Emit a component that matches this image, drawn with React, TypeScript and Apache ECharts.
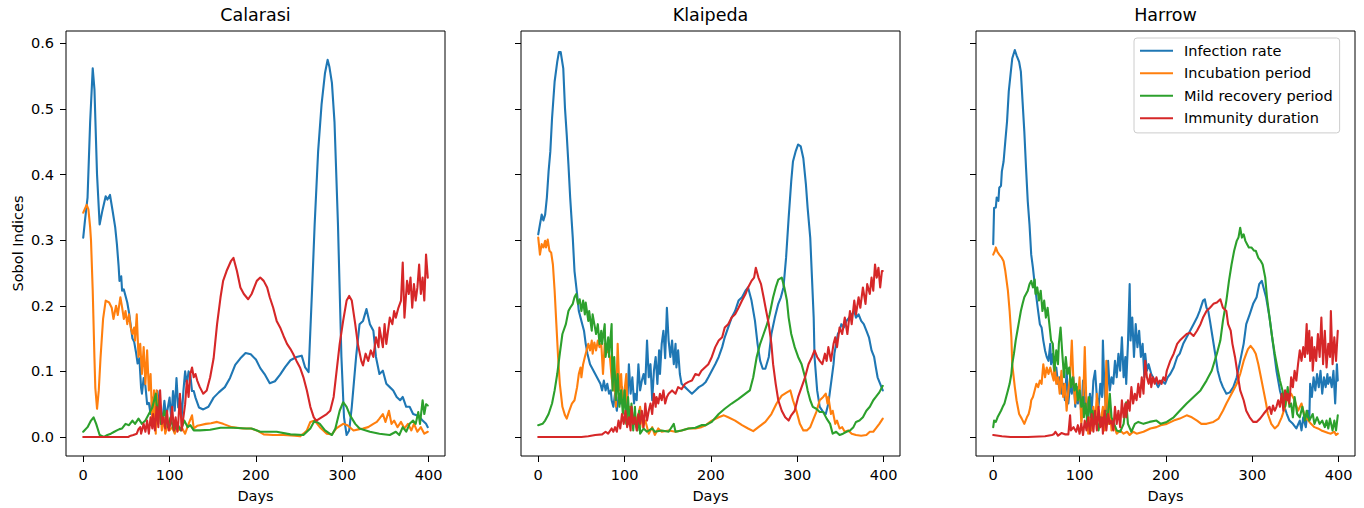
import React, { useEffect, useRef } from "react";
import * as echarts from "echarts";

type P = [number, number][];

const seriesNames = ["Infection rate", "Incubation period", "Mild recovery period", "Immunity duration"];
const seriesColors = ["#1f77b4", "#ff7f0e", "#2ca02c", "#d62728"];
const regionNames = ["Calarasi", "Klaipeda", "Harrow"];
const xTickValues = [0, 100, 200, 300, 400];
const yTickValues = [0, 0.1, 0.2, 0.3, 0.4, 0.5, 0.6];

// ---------------- Calarasi ----------------
const calarasiInfection: P = [[0,0.304],[2,0.33],[5,0.365],[8,0.48],[11,0.562],[13,0.53],[16,0.40],[19,0.324],[22,0.344],[26,0.367],[28,0.362],[31,0.369],[34,0.345],[37,0.32],[39,0.294],[41,0.26],[42,0.238],[44,0.245],[45,0.223],[47,0.225],[49,0.215],[51,0.205],[53,0.19],[55,0.17],[57,0.15],[59,0.145],[61,0.13],[63,0.112],[65,0.12],[67,0.075],[68,0.066],[70,0.09],[72,0.078],[74,0.05],[76,0.052],[78,0.035],[80,0.06],[82,0.04],[84,0.035],[86,0.07],[88,0.045],[90,0.035],[92,0.03],[94,0.055],[96,0.03],[98,0.045],[100,0.06],[102,0.025],[104,0.07],[106,0.04],[108,0.09],[110,0.045],[112,0.06],[114,0.03],[116,0.07],[118,0.1],[120,0.08],[122,0.1],[124,0.095],[126,0.07],[128,0.07],[130,0.06],[134,0.045],[139,0.042],[145,0.046],[151,0.06],[157,0.068],[164,0.076],[170,0.09],[176,0.11],[182,0.12],[188,0.128],[194,0.126],[200,0.118],[205,0.105],[210,0.096],[216,0.082],[222,0.085],[228,0.095],[234,0.107],[240,0.117],[247,0.122],[253,0.124],[257,0.106],[261,0.099],[265,0.224],[268,0.324],[272,0.435],[276,0.507],[280,0.555],[283,0.575],[285,0.565],[288,0.54],[291,0.48],[295,0.324],[299,0.122],[302,0.03],[305,0.003],[308,0.01],[311,0.046],[316,0.122],[320,0.172],[324,0.177],[328,0.195],[332,0.172],[336,0.162],[339,0.122],[343,0.096],[347,0.101],[351,0.081],[355,0.076],[359,0.071],[363,0.061],[367,0.056],[370,0.061],[374,0.046],[378,0.046],[382,0.035],[386,0.033],[390,0.03],[393,0.025],[397,0.02],[399,0.015]];
const calarasiIncubation: P = [[0,0.342],[2,0.348],[4,0.354],[6,0.347],[8,0.32],[9,0.30],[11,0.223],[13,0.12],[14,0.075],[16,0.043],[18,0.071],[20,0.12],[23,0.18],[26,0.208],[30,0.205],[33,0.197],[35,0.18],[38,0.2],[40,0.186],[43,0.213],[45,0.198],[47,0.18],[49,0.192],[51,0.172],[53,0.187],[55,0.167],[57,0.157],[59,0.167],[60,0.147],[62,0.187],[64,0.122],[66,0.142],[68,0.096],[70,0.137],[72,0.081],[74,0.132],[76,0.071],[78,0.096],[80,0.02],[82,0.071],[84,0.005],[85,0.071],[87,0.02],[89,0.051],[91,0.01],[93,0.03],[95,0.005],[98,0.02],[100,0.01],[103,0.015],[106,0.005],[108,0.02],[110,0.01],[114,0.015],[118,0.005],[122,0.02],[126,0.033],[128,0.013],[132,0.017],[135,0.018],[142,0.02],[148,0.021],[155,0.023],[162,0.02],[172,0.015],[185,0.013],[194,0.013],[201,0.01],[209,0.004],[220,0.003],[232,0.003],[245,0.002],[251,0.001],[255,0.005],[259,0.01],[263,0.023],[268,0.025],[274,0.015],[282,0.005],[288,0.004],[293,0.013],[301,0.02],[306,0.018],[313,0.01],[320,0.012],[324,0.013],[330,0.015],[336,0.02],[340,0.023],[343,0.028],[347,0.035],[350,0.023],[354,0.04],[357,0.02],[360,0.025],[364,0.015],[368,0.023],[372,0.013],[376,0.02],[380,0.01],[383,0.02],[387,0.008],[391,0.015],[395,0.005],[399,0.008]];
const calarasiRecovery: P = [[0,0.008],[5,0.015],[9,0.025],[12,0.03],[15,0.02],[19,0.003],[24,0.0],[28,0.003],[32,0.005],[36,0.008],[39,0.01],[42,0.012],[45,0.013],[49,0.02],[53,0.018],[57,0.025],[60,0.02],[64,0.028],[68,0.02],[72,0.025],[76,0.035],[80,0.045],[84,0.066],[86,0.03],[88,0.056],[90,0.02],[94,0.04],[98,0.015],[101,0.03],[105,0.01],[109,0.02],[113,0.01],[117,0.025],[121,0.015],[124,0.018],[128,0.01],[135,0.01],[147,0.011],[159,0.014],[174,0.014],[189,0.013],[195,0.013],[205,0.008],[215,0.008],[224,0.008],[240,0.004],[255,0.003],[263,0.013],[268,0.025],[274,0.02],[280,0.01],[288,0.003],[292,0.013],[297,0.04],[301,0.053],[305,0.046],[309,0.033],[315,0.02],[320,0.013],[332,0.008],[343,0.005],[355,0.003],[362,0.008],[366,0.003],[370,0.015],[374,0.008],[378,0.02],[382,0.025],[385,0.02],[388,0.038],[390,0.02],[393,0.056],[395,0.035],[397,0.05],[399,0.048]];
const calarasiImmunity: P = [[0,0],[20,0],[40,0],[52,0],[55,0.002],[58,0.003],[62,0.005],[64,0.012],[66,0.015],[67,0.005],[70,0.02],[72,0.008],[74,0.025],[76,0.005],[78,0.03],[80,0.013],[81,0.035],[83,0.01],[85,0.046],[87,0.015],[89,0.071],[91,0.02],[93,0.03],[95,0.013],[97,0.04],[99,0.01],[101,0.02],[103,0.046],[105,0.01],[107,0.03],[109,0.008],[110,0.02],[112,0.066],[114,0.01],[116,0.03],[118,0.05],[120,0.086],[122,0.061],[124,0.096],[126,0.106],[128,0.091],[130,0.096],[132,0.086],[135,0.076],[139,0.066],[143,0.071],[147,0.091],[151,0.12],[155,0.172],[159,0.213],[162,0.238],[166,0.253],[171,0.268],[174,0.273],[178,0.253],[182,0.228],[186,0.218],[191,0.21],[195,0.218],[201,0.238],[205,0.243],[209,0.238],[213,0.228],[216,0.213],[220,0.197],[224,0.177],[228,0.167],[232,0.154],[236,0.142],[240,0.134],[243,0.127],[247,0.116],[251,0.106],[255,0.091],[259,0.071],[263,0.046],[267,0.03],[270,0.025],[276,0.03],[282,0.035],[286,0.04],[290,0.061],[293,0.096],[297,0.142],[301,0.177],[305,0.208],[308,0.215],[311,0.208],[315,0.172],[318,0.142],[322,0.116],[324,0.109],[327,0.127],[330,0.116],[333,0.132],[336,0.122],[339,0.152],[342,0.137],[343,0.167],[347,0.137],[349,0.172],[351,0.142],[355,0.182],[358,0.172],[360,0.192],[362,0.182],[365,0.197],[368,0.208],[370,0.266],[372,0.182],[375,0.238],[377,0.218],[379,0.243],[381,0.197],[383,0.233],[385,0.208],[387,0.228],[389,0.263],[391,0.218],[393,0.243],[395,0.208],[397,0.278],[399,0.243]];

// ---------------- Klaipeda ----------------
const klaipedaInfection: P = [[0,0.309],[2,0.324],[4,0.339],[6,0.33],[8,0.339],[10,0.365],[12,0.405],[14,0.435],[16,0.486],[19,0.542],[22,0.572],[24,0.587],[26,0.587],[29,0.562],[31,0.501],[33,0.461],[35,0.415],[37,0.365],[40,0.304],[42,0.253],[45,0.218],[47,0.192],[49,0.182],[51,0.172],[53,0.162],[55,0.142],[57,0.127],[60,0.111],[64,0.101],[68,0.091],[72,0.081],[74,0.071],[76,0.086],[78,0.071],[80,0.081],[82,0.066],[84,0.071],[85,0.056],[87,0.046],[89,0.066],[91,0.04],[93,0.061],[95,0.051],[97,0.076],[99,0.051],[101,0.076],[103,0.046],[105,0.111],[107,0.066],[109,0.091],[111,0.051],[112,0.066],[114,0.056],[116,0.111],[118,0.071],[120,0.086],[122,0.096],[124,0.081],[126,0.147],[128,0.091],[130,0.111],[132,0.056],[134,0.101],[136,0.122],[138,0.081],[140,0.132],[141,0.096],[143,0.142],[145,0.162],[147,0.12],[149,0.197],[151,0.147],[153,0.122],[155,0.147],[157,0.111],[159,0.142],[160,0.106],[162,0.132],[164,0.096],[166,0.081],[170,0.076],[174,0.071],[178,0.066],[182,0.071],[186,0.076],[190,0.079],[194,0.084],[197,0.091],[201,0.101],[205,0.111],[209,0.122],[213,0.137],[216,0.152],[220,0.167],[224,0.182],[228,0.192],[232,0.208],[236,0.213],[240,0.223],[243,0.228],[247,0.208],[251,0.177],[254,0.142],[257,0.116],[260,0.104],[263,0.104],[267,0.122],[270,0.157],[274,0.182],[278,0.203],[281,0.213],[284,0.228],[287,0.273],[290,0.334],[293,0.39],[295,0.42],[298,0.435],[301,0.446],[304,0.443],[307,0.425],[310,0.385],[312,0.349],[315,0.304],[317,0.243],[319,0.182],[320,0.122],[323,0.071],[326,0.046],[330,0.038],[333,0.035],[336,0.051],[338,0.071],[340,0.091],[342,0.111],[343,0.127],[345,0.142],[347,0.157],[349,0.162],[351,0.172],[354,0.167],[357,0.177],[360,0.182],[363,0.187],[366,0.192],[368,0.182],[371,0.187],[374,0.177],[377,0.172],[380,0.162],[383,0.152],[386,0.132],[389,0.122],[391,0.106],[393,0.091],[396,0.081],[399,0.071]];
const klaipedaIncubation: P = [[0,0.304],[2,0.278],[4,0.294],[6,0.289],[8,0.299],[9,0.289],[11,0.301],[13,0.284],[15,0.281],[17,0.263],[19,0.223],[21,0.172],[23,0.122],[25,0.081],[28,0.046],[31,0.033],[33,0.028],[36,0.04],[39,0.051],[42,0.056],[45,0.076],[47,0.096],[49,0.106],[50,0.091],[52,0.111],[54,0.122],[56,0.132],[58,0.142],[60,0.132],[62,0.147],[63,0.127],[65,0.144],[67,0.132],[69,0.147],[71,0.137],[73,0.142],[75,0.096],[77,0.142],[78,0.127],[81,0.132],[83,0.122],[85,0.091],[87,0.071],[88,0.101],[90,0.046],[92,0.142],[94,0.071],[96,0.096],[98,0.046],[100,0.071],[102,0.096],[104,0.02],[106,0.046],[108,0.03],[112,0.02],[116,0.035],[118,0.046],[121,0.015],[124,0.025],[128,0.005],[132,0.015],[135,0.003],[139,0.013],[143,0.008],[151,0.01],[159,0.008],[166,0.01],[174,0.013],[182,0.013],[189,0.015],[194,0.018],[201,0.025],[209,0.03],[215,0.033],[220,0.03],[228,0.025],[236,0.018],[243,0.013],[249,0.009],[255,0.015],[263,0.023],[270,0.035],[276,0.051],[282,0.063],[288,0.068],[292,0.071],[295,0.056],[299,0.04],[303,0.02],[307,0.01],[311,0.01],[315,0.015],[318,0.025],[322,0.038],[326,0.056],[330,0.061],[333,0.066],[335,0.051],[336,0.061],[339,0.035],[341,0.04],[344,0.02],[346,0.025],[349,0.013],[352,0.015],[355,0.008],[359,0.01],[363,0.005],[368,0.003],[374,0.002],[380,0.003],[384,0.008],[388,0.008],[391,0.013],[395,0.02],[399,0.028]];
const klaipedaRecovery: P = [[0,0.018],[5,0.02],[8,0.025],[12,0.035],[16,0.051],[19,0.071],[22,0.096],[25,0.127],[28,0.157],[32,0.172],[35,0.192],[37,0.197],[40,0.203],[42,0.213],[44,0.218],[46,0.203],[48,0.21],[50,0.192],[52,0.208],[54,0.187],[55,0.205],[58,0.177],[59,0.192],[62,0.162],[63,0.187],[65,0.172],[67,0.157],[69,0.172],[71,0.142],[73,0.162],[74,0.142],[77,0.172],[78,0.122],[81,0.152],[82,0.122],[85,0.172],[86,0.071],[88,0.122],[90,0.056],[92,0.096],[94,0.046],[96,0.071],[98,0.035],[100,0.071],[102,0.02],[104,0.061],[106,0.02],[108,0.051],[110,0.01],[112,0.046],[113,0.02],[115,0.01],[117,0.04],[118,0.005],[122,0.013],[126,0.008],[132,0.013],[135,0.008],[143,0.01],[151,0.008],[157,0.02],[159,0.008],[166,0.01],[174,0.013],[182,0.014],[189,0.018],[194,0.018],[201,0.023],[209,0.035],[216,0.043],[224,0.051],[232,0.058],[240,0.066],[245,0.071],[249,0.091],[253,0.122],[257,0.142],[261,0.157],[265,0.172],[268,0.187],[272,0.213],[275,0.228],[278,0.24],[282,0.243],[285,0.228],[288,0.208],[290,0.182],[293,0.157],[297,0.137],[301,0.122],[305,0.111],[309,0.091],[312,0.071],[315,0.056],[318,0.046],[322,0.043],[326,0.038],[330,0.038],[334,0.028],[338,0.02],[341,0.005],[345,0.008],[349,0.003],[353,0.005],[357,0.008],[361,0.01],[365,0.015],[368,0.023],[372,0.025],[376,0.03],[380,0.04],[384,0.046],[388,0.056],[391,0.061],[395,0.068],[399,0.078]];
const klaipedaImmunity: P = [[0,0],[30,0],[50,0],[58,0.001],[66,0.003],[74,0.004],[78,0.008],[81,0.005],[85,0.013],[87,0.008],[89,0.015],[91,0.008],[93,0.025],[95,0.013],[97,0.035],[99,0.02],[101,0.04],[103,0.015],[105,0.03],[107,0.01],[108,0.046],[110,0.02],[112,0.03],[114,0.01],[116,0.035],[118,0.02],[120,0.04],[122,0.015],[124,0.051],[126,0.025],[128,0.04],[130,0.051],[132,0.035],[134,0.066],[136,0.046],[137,0.061],[139,0.051],[141,0.066],[143,0.056],[145,0.071],[147,0.051],[149,0.061],[151,0.066],[155,0.071],[159,0.066],[162,0.076],[166,0.073],[170,0.081],[174,0.084],[178,0.086],[182,0.096],[186,0.094],[189,0.101],[193,0.106],[197,0.111],[201,0.122],[205,0.137],[209,0.147],[213,0.152],[216,0.167],[220,0.172],[224,0.182],[228,0.187],[232,0.197],[236,0.208],[240,0.218],[243,0.228],[247,0.238],[250,0.243],[252,0.258],[255,0.243],[258,0.233],[261,0.213],[264,0.192],[267,0.172],[270,0.142],[272,0.111],[275,0.081],[278,0.056],[282,0.04],[286,0.03],[290,0.025],[293,0.033],[297,0.04],[301,0.061],[305,0.076],[309,0.091],[313,0.111],[317,0.122],[320,0.132],[323,0.122],[326,0.116],[329,0.111],[332,0.127],[334,0.116],[336,0.137],[339,0.116],[342,0.142],[344,0.152],[346,0.137],[349,0.167],[352,0.157],[355,0.182],[358,0.157],[361,0.192],[363,0.172],[366,0.208],[368,0.187],[371,0.213],[373,0.197],[376,0.228],[379,0.203],[381,0.233],[384,0.218],[386,0.243],[388,0.223],[390,0.263],[392,0.243],[394,0.258],[396,0.228],[398,0.253],[399,0.253]];

// ---------------- Harrow ----------------
const harrowInfection: P = [[0,0.294],[1,0.349],[3,0.35],[4,0.365],[6,0.36],[7,0.38],[9,0.383],[10,0.405],[12,0.42],[14,0.451],[16,0.481],[18,0.527],[20,0.552],[22,0.577],[25,0.59],[27,0.582],[30,0.572],[32,0.557],[34,0.511],[36,0.466],[38,0.41],[40,0.359],[42,0.324],[44,0.278],[46,0.258],[48,0.233],[50,0.213],[52,0.192],[54,0.172],[56,0.167],[58,0.147],[60,0.132],[62,0.122],[64,0.116],[66,0.142],[67,0.111],[69,0.127],[71,0.091],[73,0.106],[75,0.081],[77,0.091],[79,0.066],[81,0.081],[83,0.056],[85,0.101],[87,0.051],[89,0.081],[91,0.066],[93,0.091],[95,0.046],[97,0.076],[98,0.051],[100,0.071],[102,0.035],[104,0.086],[106,0.051],[108,0.061],[110,0.03],[112,0.066],[114,0.04],[116,0.086],[118,0.101],[120,0.061],[122,0.046],[124,0.081],[126,0.061],[127,0.147],[129,0.066],[131,0.04],[133,0.116],[135,0.071],[137,0.091],[139,0.081],[141,0.116],[143,0.091],[145,0.127],[147,0.101],[149,0.152],[151,0.091],[153,0.122],[154,0.081],[156,0.142],[158,0.233],[159,0.147],[161,0.182],[163,0.122],[165,0.172],[167,0.137],[169,0.162],[171,0.122],[173,0.142],[175,0.091],[176,0.127],[178,0.101],[180,0.111],[183,0.096],[187,0.086],[191,0.076],[195,0.086],[199,0.081],[202,0.091],[205,0.096],[209,0.106],[213,0.122],[216,0.127],[220,0.142],[224,0.152],[228,0.162],[232,0.172],[236,0.182],[239,0.192],[241,0.2],[243,0.208],[245,0.21],[247,0.197],[249,0.192],[251,0.177],[254,0.152],[257,0.127],[260,0.101],[263,0.086],[266,0.076],[270,0.066],[274,0.068],[278,0.076],[282,0.091],[286,0.116],[290,0.142],[293,0.172],[297,0.187],[301,0.203],[305,0.213],[308,0.233],[311,0.238],[313,0.228],[316,0.213],[320,0.182],[324,0.142],[328,0.101],[332,0.071],[336,0.051],[340,0.035],[343,0.025],[347,0.02],[351,0.013],[355,0.025],[357,0.01],[359,0.03],[362,0.015],[364,0.04],[366,0.025],[367,0.081],[369,0.061],[371,0.091],[373,0.071],[375,0.096],[377,0.076],[379,0.101],[381,0.066],[383,0.091],[385,0.076],[387,0.096],[388,0.081],[390,0.091],[392,0.076],[394,0.101],[396,0.051],[398,0.111],[399,0.086]];
const harrowIncubation: P = [[0,0.278],[2,0.284],[3,0.289],[5,0.282],[7,0.278],[10,0.273],[12,0.268],[14,0.253],[17,0.223],[19,0.192],[21,0.152],[22,0.111],[25,0.076],[27,0.056],[30,0.035],[33,0.028],[36,0.02],[39,0.03],[41,0.035],[43,0.046],[44,0.056],[46,0.061],[48,0.071],[50,0.081],[52,0.076],[54,0.086],[56,0.081],[58,0.111],[60,0.091],[62,0.106],[64,0.096],[66,0.106],[68,0.096],[70,0.086],[71,0.111],[73,0.081],[75,0.091],[77,0.066],[79,0.101],[81,0.061],[83,0.081],[85,0.04],[87,0.071],[89,0.091],[91,0.147],[93,0.081],[95,0.051],[96,0.076],[98,0.056],[100,0.091],[102,0.02],[104,0.046],[106,0.137],[108,0.046],[110,0.005],[112,0.03],[114,0.01],[116,0.046],[118,0.02],[120,0.066],[122,0.035],[124,0.015],[125,0.03],[127,0.046],[129,0.01],[131,0.116],[133,0.02],[135,0.046],[137,0.01],[139,0.02],[143,0.005],[147,0.01],[151,0.005],[155,0.008],[158,0.003],[162,0.008],[166,0.005],[174,0.008],[182,0.013],[189,0.015],[194,0.018],[201,0.02],[209,0.025],[216,0.028],[224,0.033],[230,0.03],[236,0.025],[241,0.02],[247,0.02],[255,0.023],[261,0.028],[266,0.04],[270,0.051],[274,0.061],[278,0.071],[282,0.081],[286,0.096],[290,0.116],[293,0.127],[295,0.134],[298,0.139],[301,0.134],[304,0.127],[307,0.111],[310,0.091],[313,0.071],[316,0.051],[318,0.035],[322,0.02],[326,0.013],[330,0.018],[334,0.03],[338,0.046],[341,0.061],[345,0.066],[349,0.056],[353,0.04],[357,0.051],[361,0.03],[365,0.025],[368,0.02],[372,0.015],[376,0.013],[380,0.01],[384,0.008],[388,0.006],[391,0.005],[395,0.008],[397,0.003],[399,0.005]];
const harrowRecovery: P = [[0,0.015],[1,0.025],[3,0.023],[5,0.03],[7,0.035],[9,0.04],[11,0.046],[13,0.051],[15,0.061],[17,0.071],[19,0.081],[21,0.096],[22,0.111],[24,0.127],[26,0.147],[28,0.162],[30,0.177],[32,0.192],[34,0.203],[36,0.213],[38,0.218],[40,0.223],[42,0.233],[44,0.238],[46,0.228],[48,0.24],[49,0.218],[51,0.228],[53,0.208],[55,0.223],[57,0.192],[59,0.208],[61,0.182],[63,0.197],[65,0.172],[67,0.147],[69,0.142],[71,0.101],[73,0.132],[75,0.111],[76,0.142],[78,0.167],[80,0.127],[82,0.091],[84,0.122],[86,0.096],[88,0.106],[90,0.076],[92,0.091],[94,0.071],[96,0.081],[98,0.056],[100,0.071],[102,0.046],[104,0.061],[105,0.03],[107,0.051],[109,0.02],[111,0.061],[113,0.03],[115,0.04],[117,0.02],[119,0.03],[122,0.01],[124,0.03],[127,0.02],[130,0.04],[132,0.02],[135,0.066],[137,0.03],[140,0.02],[143,0.01],[147,0.008],[151,0.02],[154,0.053],[156,0.02],[160,0.008],[164,0.02],[168,0.023],[174,0.02],[181,0.023],[189,0.025],[194,0.02],[201,0.023],[209,0.03],[216,0.04],[224,0.051],[232,0.061],[240,0.071],[247,0.086],[253,0.101],[259,0.127],[263,0.147],[266,0.177],[270,0.208],[273,0.238],[276,0.263],[279,0.284],[282,0.299],[284,0.304],[286,0.319],[288,0.304],[290,0.309],[292,0.299],[294,0.294],[296,0.289],[299,0.289],[302,0.284],[304,0.284],[307,0.273],[310,0.268],[312,0.263],[315,0.243],[317,0.213],[320,0.182],[323,0.152],[326,0.127],[329,0.106],[332,0.086],[335,0.071],[338,0.046],[341,0.076],[343,0.046],[345,0.051],[347,0.03],[349,0.061],[352,0.035],[355,0.03],[358,0.046],[361,0.025],[363,0.04],[366,0.025],[370,0.035],[372,0.02],[375,0.03],[378,0.02],[381,0.025],[384,0.015],[386,0.025],[388,0.013],[390,0.028],[393,0.01],[395,0.025],[397,0.01],[399,0.033]];
const harrowImmunity: P = [[0,0.003],[10,0.001],[20,0],[40,0],[60,0.001],[68,0.003],[70,0.004],[72,0.008],[75,0.002],[79,0.006],[83,0.004],[87,0.004],[89,0.033],[90,0.01],[93,0.015],[96,0.008],[98,0.018],[100,0.005],[102,0.02],[104,0.003],[106,0.025],[108,0.01],[110,0.03],[112,0.005],[114,0.035],[116,0.008],[118,0.04],[120,0.01],[122,0.046],[124,0.015],[126,0.03],[127,0.005],[129,0.04],[131,0.01],[133,0.035],[135,0.02],[137,0.025],[139,0.01],[141,0.046],[143,0.02],[145,0.04],[147,0.015],[149,0.056],[151,0.03],[153,0.051],[154,0.03],[156,0.056],[158,0.04],[160,0.076],[162,0.051],[164,0.066],[166,0.056],[168,0.081],[170,0.061],[172,0.091],[174,0.066],[176,0.116],[178,0.091],[180,0.081],[182,0.096],[183,0.076],[185,0.091],[187,0.081],[189,0.091],[191,0.081],[193,0.086],[195,0.081],[197,0.091],[199,0.086],[201,0.101],[205,0.116],[209,0.127],[213,0.142],[216,0.147],[220,0.152],[224,0.157],[228,0.159],[232,0.154],[236,0.162],[240,0.172],[243,0.182],[247,0.192],[251,0.197],[255,0.203],[259,0.205],[263,0.21],[266,0.197],[270,0.192],[272,0.172],[275,0.162],[277,0.142],[280,0.122],[283,0.096],[286,0.071],[290,0.056],[293,0.04],[297,0.03],[301,0.023],[305,0.023],[309,0.028],[313,0.035],[316,0.04],[320,0.046],[322,0.035],[324,0.048],[326,0.04],[328,0.046],[330,0.056],[332,0.046],[334,0.066],[336,0.04],[338,0.071],[340,0.056],[341,0.066],[343,0.051],[345,0.091],[347,0.076],[349,0.101],[351,0.086],[353,0.111],[355,0.132],[357,0.116],[359,0.137],[361,0.122],[363,0.172],[364,0.127],[366,0.162],[367,0.116],[369,0.152],[370,0.101],[372,0.137],[374,0.116],[376,0.157],[378,0.122],[380,0.182],[382,0.111],[384,0.162],[386,0.106],[388,0.142],[390,0.122],[391,0.192],[393,0.111],[395,0.152],[397,0.116],[399,0.162]];

const panelData: P[][] = [
  [calarasiInfection, calarasiIncubation, calarasiRecovery, calarasiImmunity],
  [klaipedaInfection, klaipedaIncubation, klaipedaRecovery, klaipedaImmunity],
  [harrowInfection, harrowIncubation, harrowRecovery, harrowImmunity],
];

const FONT = "'DejaVu Sans', 'Liberation Sans', sans-serif";
const gridLefts = [66, 521, 976];
const gridTop = 31;
const gridWidth = 379;
const gridHeight = 426;

export default function App() {
  const ref = useRef<HTMLDivElement>(null);

  useEffect(() => {
    if (!ref.current) return;
    const chart = echarts.init(ref.current, undefined, { renderer: "svg" });

    const grids = gridLefts.map((left) => ({
      left,
      top: gridTop,
      width: gridWidth,
      height: gridHeight,
      show: true,
      borderColor: "#000",
      borderWidth: 1,
      backgroundColor: "transparent",
    }));

    const xAxes = gridLefts.map((_, i) => ({
      gridIndex: i,
      type: "value",
      min: -19.95,
      max: 418.95,
      splitLine: { show: false },
      axisLine: { show: false, onZero: false },
      axisTick: { show: true, inside: false, length: 6, customValues: xTickValues, lineStyle: { color: "#000", width: 1 } },
      axisLabel: { show: true, customValues: xTickValues, margin: 11, color: "#000", fontSize: 14.5, fontFamily: FONT },
      name: "Days",
      nameLocation: "middle",
      nameGap: 32,
      nameTextStyle: { color: "#000", fontSize: 14.5, fontFamily: FONT },
    }));

    const yAxes = gridLefts.map((_, i) => ({
      gridIndex: i,
      type: "value",
      min: -0.029,
      max: 0.619,
      splitLine: { show: false },
      axisLine: { show: false, onZero: false },
      axisTick: { show: true, inside: false, length: 6, customValues: yTickValues, lineStyle: { color: "#000", width: 1 } },
      axisLabel: {
        show: i === 0,
        customValues: yTickValues,
        formatter: (v: number) => v.toFixed(1),
        margin: 12,
        color: "#000",
        fontSize: 14.5,
        fontFamily: FONT,
      },
      name: i === 0 ? "Sobol Indices" : "",
      nameLocation: "middle",
      nameGap: 41,
      nameTextStyle: { color: "#000", fontSize: 14.5, fontFamily: FONT },
    }));

    const series: any[] = [];
    panelData.forEach((panel, i) => {
      panel.forEach((data, j) => {
        series.push({
          type: "line",
          name: seriesNames[j],
          xAxisIndex: i,
          yAxisIndex: i,
          data,
          showSymbol: false,
          symbol: "none",
          smooth: false,
          lineStyle: { width: 2.1, color: seriesColors[j], join: "round", cap: "round" },
          itemStyle: { color: seriesColors[j] },
          emphasis: { disabled: true },
          z: 2 + j,
        });
      });
    });

    const titles = regionNames.map((name, i) => ({
      type: "text",
      x: gridLefts[i] + gridWidth / 2,
      y: 15,
      style: {
        text: name,
        fill: "#000",
        font: `17.5px ${FONT}`,
        textAlign: "center",
        textVerticalAlign: "middle",
        align: "center",
        verticalAlign: "middle",
      },
    }));

    chart.setOption({
      animation: false,
      textStyle: { fontFamily: FONT },
      grid: grids,
      xAxis: xAxes,
      yAxis: yAxes,
      series,
      graphic: titles,
      legend: {
        show: true,
        data: seriesNames,
        orient: "vertical",
        left: 1134,
        top: 38,
        icon: "rect",
        itemWidth: 33,
        itemHeight: 2,
        itemGap: 4.5,
        padding: [3.7, 7, 5.7, 6],
        borderColor: "#cccccc",
        borderWidth: 1,
        borderRadius: 3,
        backgroundColor: "rgba(255,255,255,0.8)",
        selectedMode: false,
        textStyle: { fontSize: 14.5, fontFamily: FONT, color: "#000", lineHeight: 18, padding: [0, 0, 0, 6] },
        z: 10,
      },
    } as any);

    return () => {
      chart.dispose();
    };
  }, []);

  return (
    <div
      ref={ref}
      style={{ position: "fixed", left: 0, top: 0, width: 1364, height: 508, background: "#fff" }}
    />
  );
}
